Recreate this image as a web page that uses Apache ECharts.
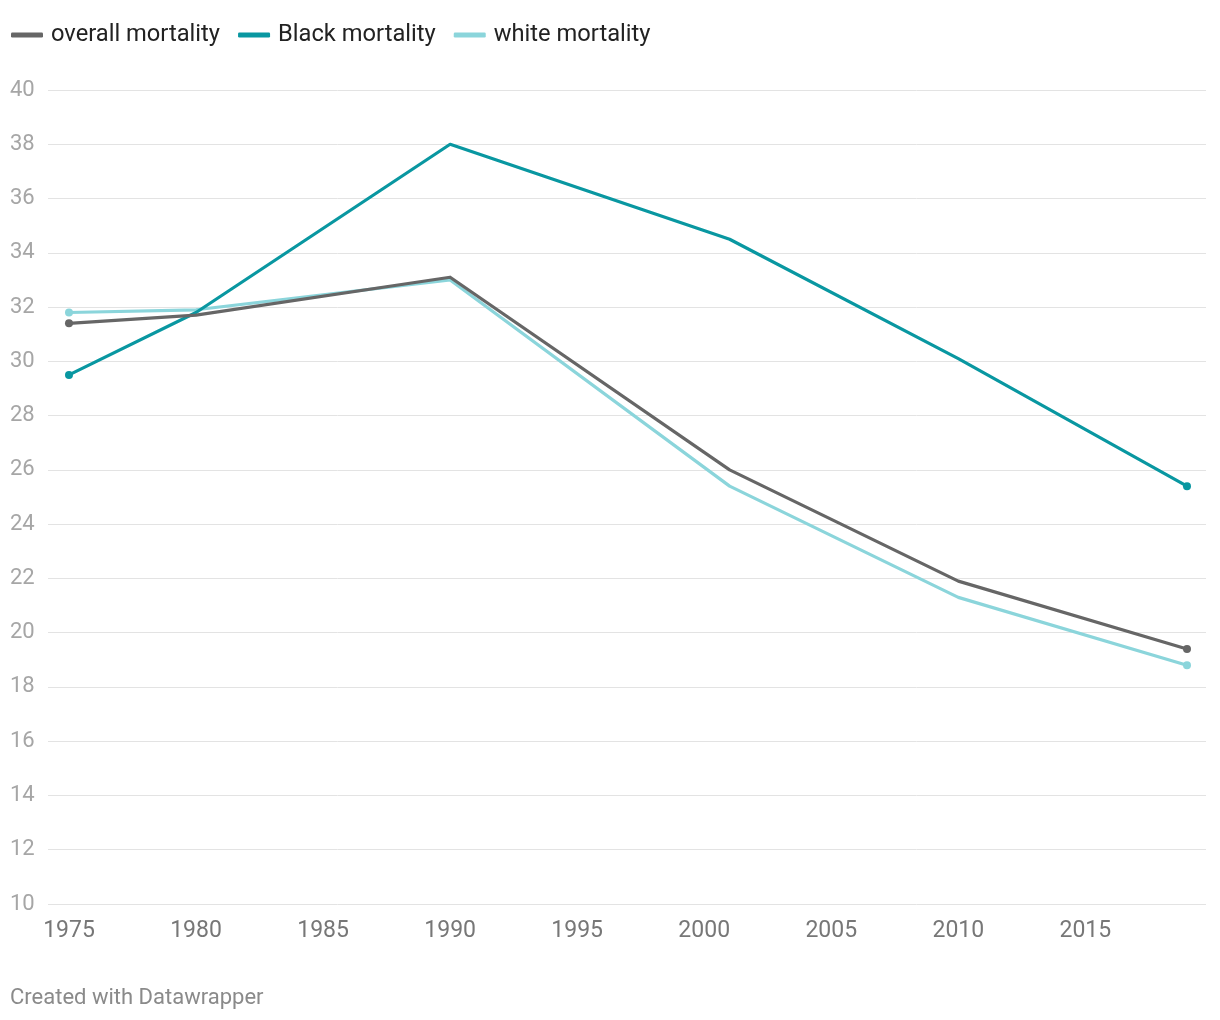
<!DOCTYPE html>
<html>
<head>
<meta charset="utf-8">
<script src="https://cdn.jsdelivr.net/npm/echarts@6/dist/echarts.min.js"></script>
<style>
html,body{margin:0;padding:0;background:#fff;}
#chart{width:1220px;height:1020px;}
</style>
</head>
<body>
<div id="chart"></div>
<script>
const years = [1975, 1980, 1990, 2001, 2010, 2019];
const overall = [31.4, 31.7, 33.1, 26.0, 21.9, 19.4];
const black = [29.5, 31.8, 38.0, 34.5, 30.1, 25.4];
const white = [31.8, 31.9, 33.0, 25.4, 21.3, 18.8];
const xTicks = [1975, 1980, 1985, 1990, 1995, 2000, 2005, 2010, 2015];
const seriesNames = ['overall mortality', 'Black mortality', 'white mortality'];
const colors = ['#666666', '#0997a1', '#8bd5db'];

const FONT = 'Roboto, "Noto Sans", sans-serif';
const chart = echarts.init(document.getElementById('chart'), null, {renderer: 'canvas'});

function pairs(vals) { return years.map((y, i) => [y, vals[i]]); }
function endSym(v, p) { return (p.dataIndex === 0 || p.dataIndex === years.length - 1) ? 8 : 0; }

function mk(name, vals, color, z) {
  return {
    name: name, type: 'line', data: pairs(vals), z: z,
    symbol: 'circle', symbolSize: endSym, showSymbol: true,
    lineStyle: {color: color, width: 3.2, cap: 'round', join: 'round'},
    itemStyle: {color: color},
    emphasis: {disabled: true},
    animation: false
  };
}

chart.setOption({
  animation: false,
  color: colors,
  legend: {
    data: seriesNames,
    left: 6, top: 18,
    icon: 'roundRect',
    itemWidth: 32, itemHeight: 5,
    itemGap: 18,
    textStyle: {fontFamily: FONT, fontSize: 23.7, color: '#222', padding: [0, 0, 0, 3]}
  },
  grid: {left: 48, right: 14, top: 90, bottom: 116, containLabel: false},
  xAxis: {
    type: 'value',
    min: 1974.174, max: 2019.748,
    axisLine: {show: false},
    axisTick: {show: false},
    splitLine: {show: false},
    axisLabel: {
      customValues: xTicks,
      fontFamily: FONT, fontSize: 23, color: '#777', margin: 16,
      formatter: v => String(v)
    }
  },
  yAxis: {
    type: 'value', min: 10, max: 40, interval: 2,
    axisLine: {show: false},
    axisTick: {show: false},
    splitLine: {lineStyle: {color: '#e3e3e3', width: 1}},
    axisLabel: {fontFamily: FONT, fontSize: 22, color: '#a6a6a6', align: 'left', margin: 38}
  },
  graphic: [{
    type: 'text', left: 10, top: 987,
    style: {text: 'Created with Datawrapper', fontFamily: FONT, fontSize: 22, fill: '#8a8a8a'}
  }],
  series: [
    mk(seriesNames[2], white, colors[2], 2),
    mk(seriesNames[1], black, colors[1], 3),
    mk(seriesNames[0], overall, colors[0], 4)
  ]
});
</script>
</body>
</html>
